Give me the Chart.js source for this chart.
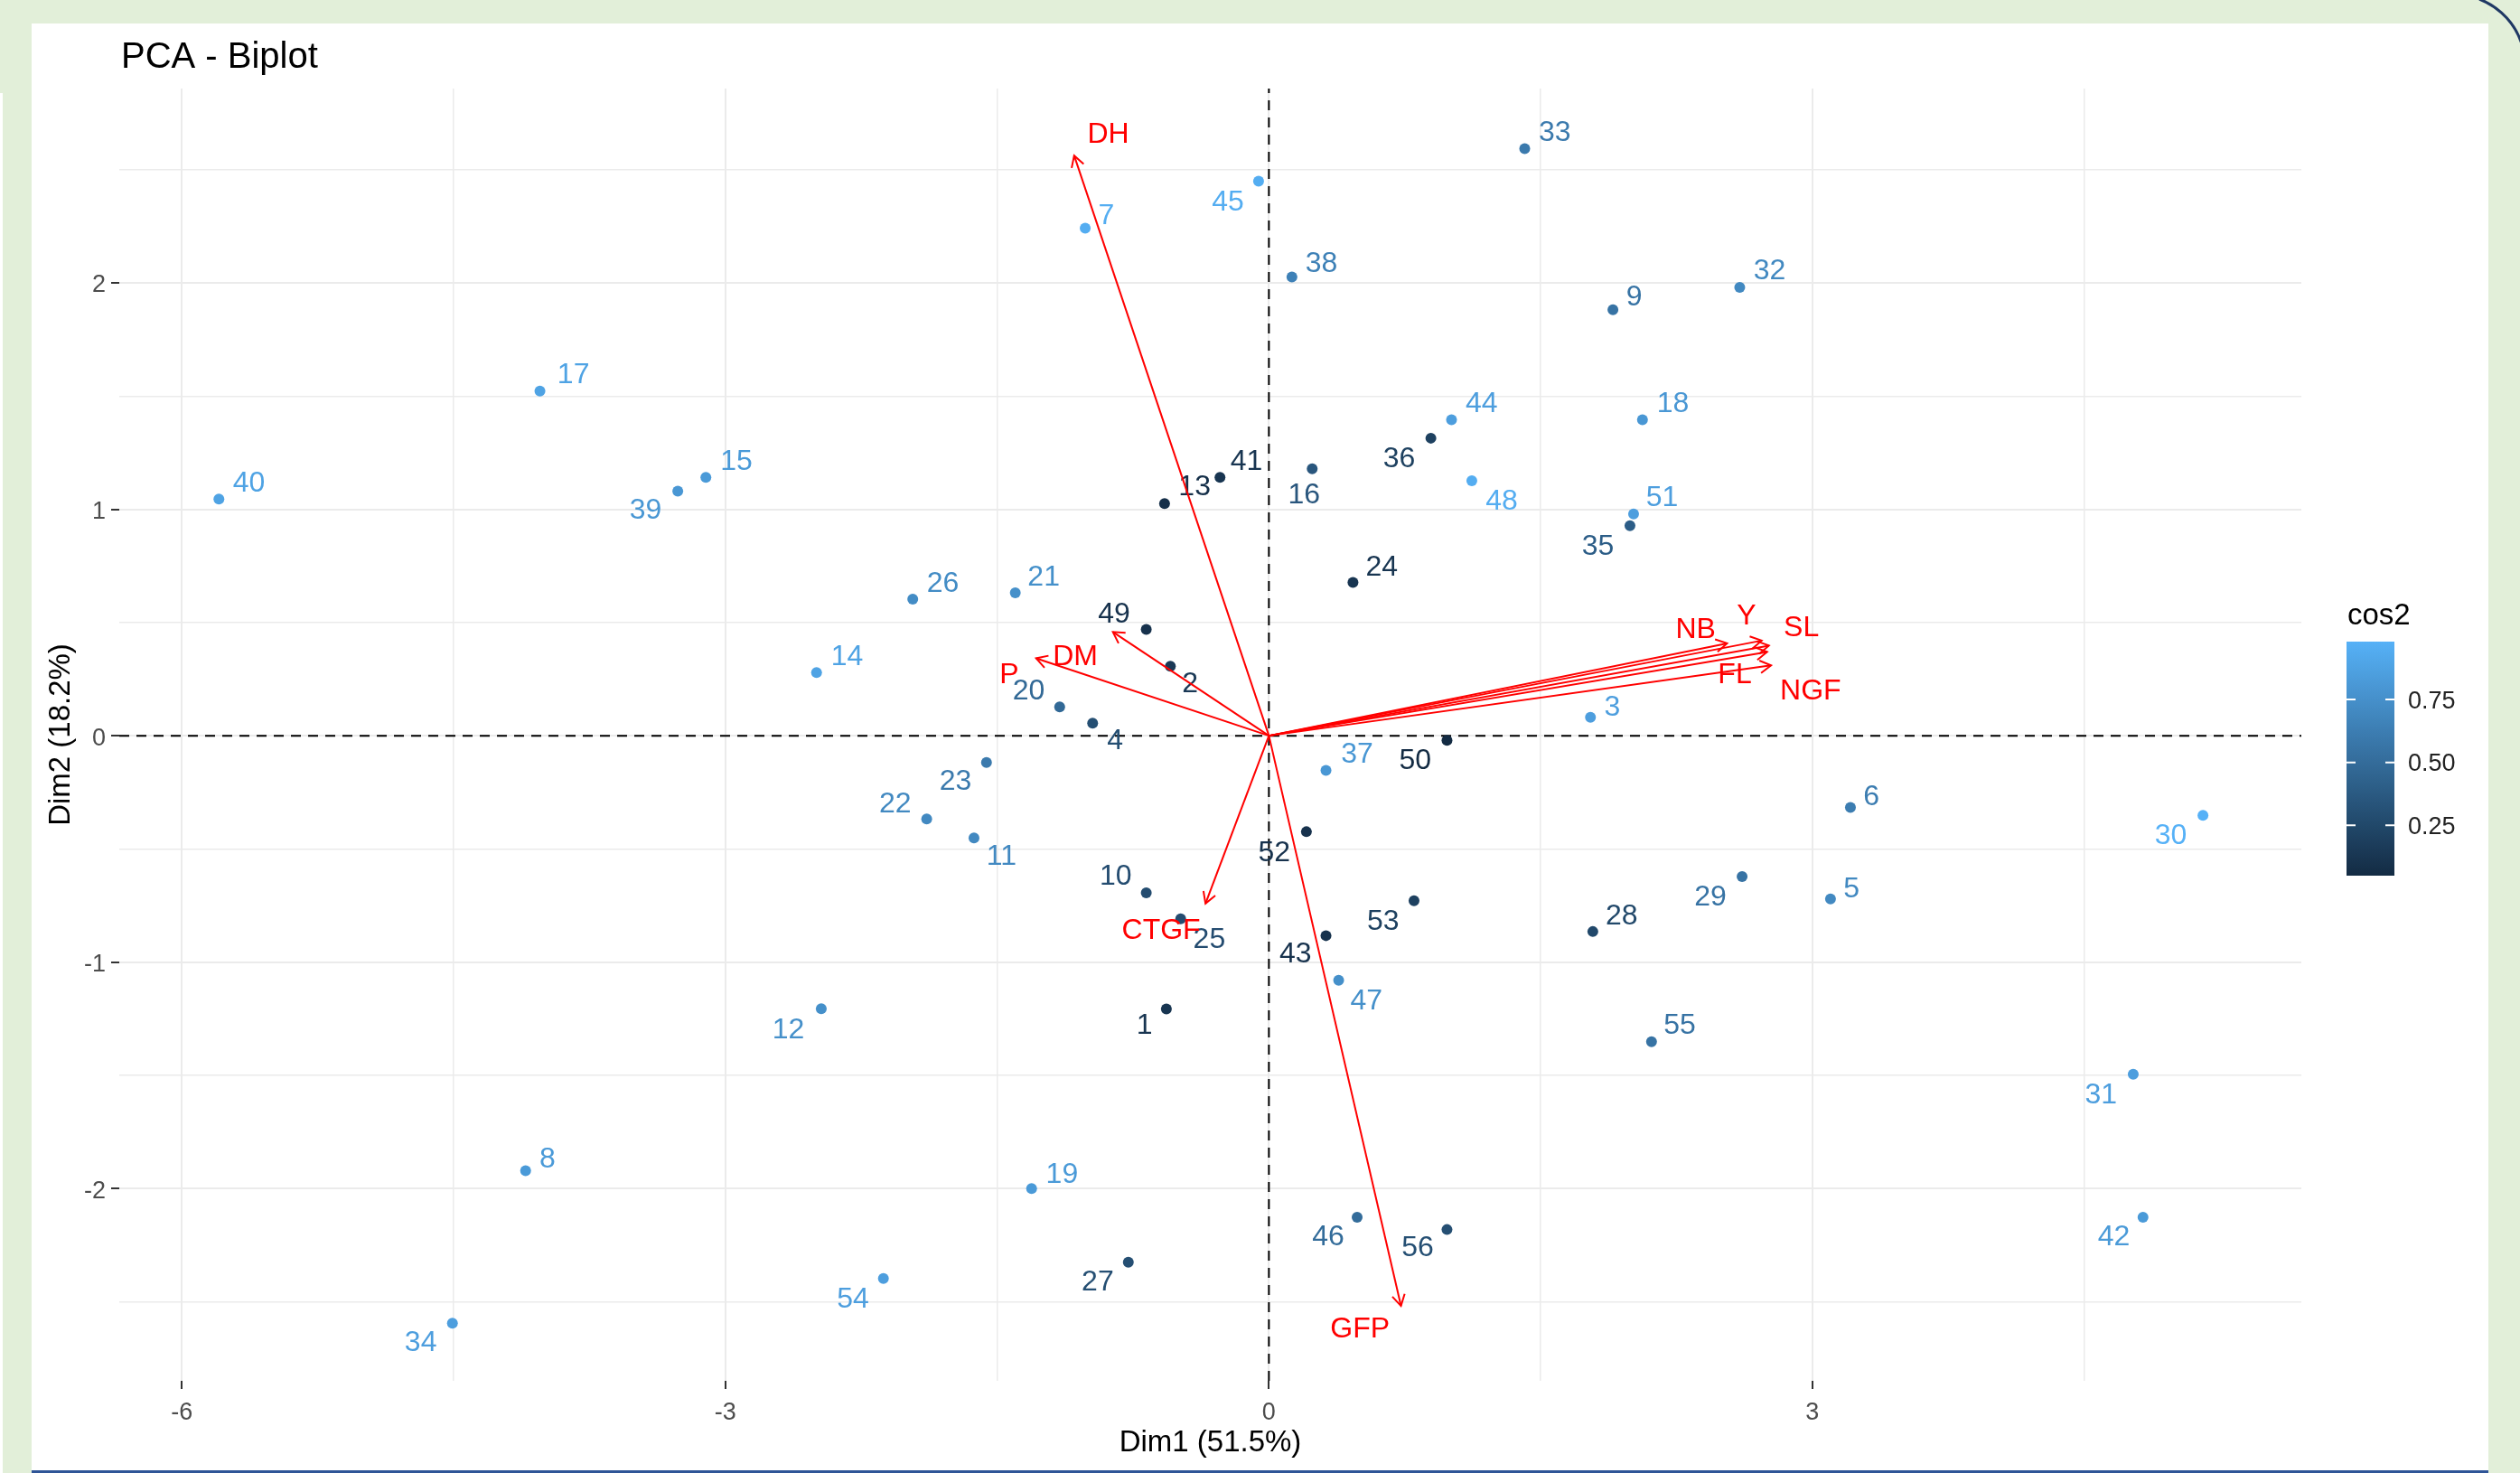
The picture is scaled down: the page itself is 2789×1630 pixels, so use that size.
<!DOCTYPE html>
<html>
<head>
<meta charset="utf-8">
<title>PCA - Biplot</title>
<script src="https://cdn.jsdelivr.net/npm/chart.js@4.4.1/dist/chart.umd.min.js"></script>
<style>
  html, body { margin: 0; padding: 0; }
  body { width: 2789px; height: 1630px; position: relative; overflow: hidden; background: #E2EFD9; }
  #panel { position: absolute; left: 35px; top: 26px; width: 2719px; height: 1604px; background: #fff; }
  #edge { position: absolute; left: 0; top: 103px; width: 3px; height: 1527px; background: #fff; }
  #bottomLine { position: absolute; left: 35px; top: 1627px; width: 2719px; height: 3px; background: #2F5597; }
  #deco { position: absolute; left: 0; top: 0; }
  #chartCanvas { position: absolute; left: 0; top: 0; }
</style>
</head>
<body>
<div id="panel"></div>
<div id="edge"></div>
<div id="bottomLine"></div>
<svg id="deco" width="2789" height="1630"><path d="M 2744 -1 A 80 80 0 0 1 2792 52" fill="none" stroke="#1F3864" stroke-width="3"/></svg>
<canvas id="chartCanvas" width="2789" height="1630"></canvas>
<script>
// individuos (coordenadas Dim1 / Dim2, cos2 y posicion de la etiqueta)
const ids = ['1','2','3','4','5','6','7','8','9','10','11','12','13','14','15','16','17','18','19','20',
  '21','22','23','24','25','26','27','28','29','30','31','32','33','34','35','36','37','38','39','40',
  '41','42','43','44','45','46','47','48','49','50','51','52','53','54','55','56'];
const dim1 = [-0.566, -0.544, 1.775, -0.973, 3.100, 3.210, -1.014, -4.103, 1.899, -0.677,
  -1.628, -2.471, -0.576, -2.497, -3.108, 0.239, -4.024, 2.062, -1.310, -1.155,
  -1.400, -1.889, -1.559, 0.464, -0.487, -1.966, -0.776, 1.788, 2.612, 5.156,
  4.771, 2.599, 1.412, -4.507, 1.993, 0.894, 0.315, 0.127, -3.263, -5.796,
  -0.270, 4.825, 0.315, 1.008, -0.057, 0.487, 0.385, 1.120, -0.677, 0.983,
  2.013, 0.207, 0.801, -2.128, 2.112, 0.983];
const dim2 = [-1.207, 0.307, 0.081, 0.055, -0.721, -0.317, 2.241, -1.921, 1.881, -0.694,
  -0.451, -1.206, 1.025, 0.279, 1.141, 1.179, 1.522, 1.395, -2.000, 0.127,
  0.631, -0.368, -0.118, 0.677, -0.809, 0.603, -2.325, -0.865, -0.622, -0.352,
  -1.495, 1.980, 2.593, -2.595, 0.927, 1.314, -0.153, 2.026, 1.080, 1.045,
  1.141, -2.127, -0.883, 1.395, 2.449, -2.127, -1.080, 1.126, 0.469, -0.020,
  0.979, -0.424, -0.729, -2.397, -1.351, -2.181];
const cos2 = [0.12, 0.15, 0.85, 0.30, 0.70, 0.62, 0.95, 0.82, 0.55, 0.28,
  0.70, 0.75, 0.08, 0.88, 0.82, 0.35, 0.88, 0.80, 0.82, 0.48,
  0.75, 0.70, 0.60, 0.12, 0.28, 0.72, 0.30, 0.25, 0.55, 0.98,
  0.85, 0.70, 0.60, 0.85, 0.40, 0.20, 0.80, 0.65, 0.80, 0.88,
  0.12, 0.82, 0.10, 0.85, 0.95, 0.50, 0.75, 0.95, 0.10, 0.05,
  0.85, 0.10, 0.20, 0.85, 0.55, 0.30];
const labelDim1 = [-0.687, -0.435, 1.896, -0.849, 3.216, 3.326, -0.897, -3.982, 2.017, -0.846,
  -1.476, -2.653, -0.410, -2.328, -2.939, 0.194, -3.839, 2.230, -1.142, -1.326,
  -1.243, -2.063, -1.730, 0.623, -0.329, -1.800, -0.945, 1.947, 2.437, 4.978,
  4.593, 2.764, 1.578, -4.682, 1.816, 0.719, 0.487, 0.290, -3.441, -5.630,
  -0.124, 4.664, 0.147, 1.174, -0.226, 0.328, 0.538, 1.285, -0.855, 0.808,
  2.170, 0.029, 0.630, -2.296, 2.268, 0.821];
const labelDim2 = [-1.281, 0.229, 0.122, -0.023, -0.680, -0.272, 2.295, -1.873, 1.936, -0.624,
  -0.535, -1.301, 1.099, 0.348, 1.210, 1.062, 1.592, 1.465, -1.940, 0.194,
  0.698, -0.302, -0.202, 0.744, -0.902, 0.672, -2.413, -0.798, -0.715, -0.443,
  -1.587, 2.050, 2.661, -2.684, 0.832, 1.222, -0.084, 2.085, 0.992, 1.114,
  1.210, -2.217, -0.966, 1.465, 2.356, -2.217, -1.174, 1.034, 0.535, -0.112,
  1.049, -0.517, -0.822, -2.489, -1.283, -2.262];

// variables (flechas)
const varNames = ['DH', 'DM', 'P', 'NB', 'Y', 'SL', 'FL', 'NGF', 'CTGF', 'GFP'];
const varDim1 = [-1.075, -0.861, -1.285, 2.529, 2.720, 2.760, 2.750, 2.772, -0.350, 0.729];
const varDim2 = [2.562, 0.458, 0.342, 0.408, 0.420, 0.398, 0.370, 0.311, -0.741, -2.518];
const varLabelDim1 = [-0.887, -1.069, -1.434, 2.356, 2.636, 2.939, 2.572, 2.990, -0.595, 0.503];
const varLabelDim2 = [2.653, 0.348, 0.267, 0.468, 0.527, 0.473, 0.269, 0.195, -0.862, -2.624];

// ejes
const xMajorTicks = [-6, -3, 0, 3];
const xMinorTicks = [-4.5, -1.5, 1.5, 4.5];
const yMajorTicks = [-2, -1, 0, 1, 2];
const yMinorTicks = [-2.5, -1.5, -0.5, 0.5, 1.5, 2.5];
const xLimits = [-6.346, 5.699];
const yLimits = [-2.849, 2.858];
const legendTicks = [0.25, 0.50, 0.75];

const FONT = "'Liberation Sans', Arial, sans-serif";
Chart.defaults.font.family = FONT;

// gradiente cos2 (como ggplot: #132B43 -> #56B1F7)
const lowCol = [19, 43, 67];
const highCol = [86, 177, 247];
const cosMin = Math.min(...cos2);
const cosMax = Math.max(...cos2);
function cosColor(v) {
    const t = (v - cosMin) / (cosMax - cosMin);
    const c = lowCol.map((lo, i) => Math.round(lo + (highCol[i] - lo) * t));
    return `rgb(${c[0]},${c[1]},${c[2]})`;
}
const pointColors = cos2.map(cosColor);

const isMajorX = v => xMajorTicks.includes(v);
const isMajorY = v => yMajorTicks.includes(v);

const datasets = [{
    label: 'individuos',
    data: dim1.map((x, i) => ({ x: x, y: dim2[i] })),
    backgroundColor: pointColors,
    borderColor: pointColors,
    borderWidth: 0,
    pointRadius: 6,
    order: 10
}];
varNames.forEach((name, i) => {
    datasets.push({
        label: name,
        data: [{ x: 0, y: 0 }, { x: varDim1[i], y: varDim2[i] }],
        showLine: true,
        borderColor: '#FF0000',
        borderWidth: 2,
        pointRadius: 0,
        order: 0
    });
});

const biplotPlugin = {
    id: 'biplot',
    beforeDatasetsDraw(chart) {
        // lineas discontinuas en 0
        const { ctx, chartArea: a, scales: { x, y } } = chart;
        const px = x.getPixelForValue(0), py = y.getPixelForValue(0);
        ctx.save();
        ctx.strokeStyle = '#000';
        ctx.lineWidth = 2;
        ctx.setLineDash([11, 8]);
        ctx.beginPath();
        ctx.moveTo(a.left, py); ctx.lineTo(a.right, py);
        ctx.moveTo(px, a.bottom); ctx.lineTo(px, a.top);
        ctx.stroke();
        ctx.restore();
    },
    afterDatasetDraw(chart, args) {
        if (args.index !== 0) return;
        // etiquetas de los individuos
        const { ctx, scales: { x, y } } = chart;
        ctx.save();
        ctx.font = '32px ' + FONT;
        ctx.textAlign = 'center';
        ctx.textBaseline = 'middle';
        ids.forEach((id, i) => {
            ctx.fillStyle = pointColors[i];
            ctx.fillText(id, x.getPixelForValue(labelDim1[i]), y.getPixelForValue(labelDim2[i]));
        });
        ctx.restore();
    },
    afterDatasetsDraw(chart) {
        // puntas de flecha y nombres de variables
        const { ctx, scales: { x, y } } = chart;
        const ox = x.getPixelForValue(0), oy = y.getPixelForValue(0);
        ctx.save();
        ctx.strokeStyle = '#FF0000';
        ctx.lineWidth = 2;
        varNames.forEach((name, i) => {
            const tx = x.getPixelForValue(varDim1[i]), ty = y.getPixelForValue(varDim2[i]);
            const ang = Math.atan2(ty - oy, tx - ox);
            const len = 14, spread = Math.PI / 6;
            ctx.beginPath();
            ctx.moveTo(tx - len * Math.cos(ang - spread), ty - len * Math.sin(ang - spread));
            ctx.lineTo(tx, ty);
            ctx.lineTo(tx - len * Math.cos(ang + spread), ty - len * Math.sin(ang + spread));
            ctx.stroke();
        });
        ctx.font = '32px ' + FONT;
        ctx.fillStyle = '#FF0000';
        ctx.textAlign = 'center';
        ctx.textBaseline = 'middle';
        varNames.forEach((name, i) => {
            ctx.fillText(name, x.getPixelForValue(varLabelDim1[i]), y.getPixelForValue(varLabelDim2[i]));
        });
        ctx.restore();
    },
    afterDraw(chart) {
        const { ctx, chartArea: a } = chart;
        ctx.save();
        // titulo
        ctx.font = '40px ' + FONT;
        ctx.fillStyle = '#000';
        ctx.textAlign = 'left';
        ctx.textBaseline = 'middle';
        ctx.fillText('PCA - Biplot', a.left + 2, 64);

        // leyenda cos2
        const barLeft = a.right + 50, barW = 53, barTop = 710, barBottom = 969;
        ctx.font = '33px ' + FONT;
        ctx.fillText('cos2', barLeft + 1, 682);
        const grad = ctx.createLinearGradient(0, barBottom, 0, barTop);
        for (let s = 0; s <= 10; s++) grad.addColorStop(s / 10, cosColor(cosMin + (cosMax - cosMin) * s / 10));
        ctx.fillStyle = grad;
        ctx.fillRect(barLeft, barTop, barW, barBottom - barTop);
        ctx.strokeStyle = '#FFFFFF';
        ctx.lineWidth = 2;
        ctx.font = '27px ' + FONT;
        ctx.fillStyle = '#222';
        legendTicks.forEach(v => {
            const ty = barBottom - (v - cosMin) / (cosMax - cosMin) * (barBottom - barTop);
            ctx.beginPath();
            ctx.moveTo(barLeft, ty); ctx.lineTo(barLeft + 10, ty);
            ctx.moveTo(barLeft + barW - 10, ty); ctx.lineTo(barLeft + barW, ty);
            ctx.stroke();
            ctx.fillText(v.toFixed(2), barLeft + barW + 15, ty + 2);
        });
        ctx.restore();
    }
};

const gridOpts = (isMajor) => ({
    color: '#EBEBEB',
    lineWidth: c => (c.tick && isMajor(c.tick.value)) ? 2 : 1.5,
    tickColor: c => (c.tick && isMajor(c.tick.value)) ? '#333333' : 'rgba(0,0,0,0)',
    tickLength: 9,
    tickWidth: 2,
    drawTicks: true
});

const ctx = document.getElementById('chartCanvas').getContext('2d');
const biplot = new Chart(ctx, {
    type: 'scatter',
    data: { datasets: datasets },
    plugins: [biplotPlugin],
    options: {
        responsive: false,
        animation: false,
        devicePixelRatio: 1,
        events: [],
        layout: { padding: { left: 40, top: 98, right: 242, bottom: 0 } },
        plugins: { legend: { display: false }, tooltip: { enabled: false }, title: { display: false } },
        scales: {
            x: {
                type: 'linear',
                min: xLimits[0], max: xLimits[1],
                afterBuildTicks: s => { s.ticks = [...xMajorTicks, ...xMinorTicks].sort((a, b) => a - b).map(v => ({ value: v })); },
                afterFit: s => { s.height = 102; },
                border: { display: false },
                grid: gridOpts(isMajorX),
                ticks: {
                    autoSkip: false, maxRotation: 0,
                    padding: 10,
                    color: '#4D4D4D',
                    font: { size: 27 },
                    callback: v => isMajorX(v) ? String(v) : ''
                },
                title: { display: true, text: 'Dim1 (51.5%)', color: '#000', font: { size: 33 }, padding: { top: 0, bottom: 13 } }
            },
            y: {
                type: 'linear',
                min: yLimits[0], max: yLimits[1],
                afterBuildTicks: s => { s.ticks = [...yMajorTicks, ...yMinorTicks].sort((a, b) => a - b).map(v => ({ value: v })); },
                afterFit: s => { s.width = 92; },
                border: { display: false },
                grid: gridOpts(isMajorY),
                ticks: {
                    autoSkip: false,
                    padding: 6,
                    labelOffset: 3,
                    color: '#4D4D4D',
                    font: { size: 27 },
                    callback: v => isMajorY(v) ? String(v) : ''
                },
                title: { display: true, text: 'Dim2 (18.2%)', color: '#000', font: { size: 33 }, padding: { top: 8, bottom: 0 } }
            }
        }
    }
});
</script>
</body>
</html>
